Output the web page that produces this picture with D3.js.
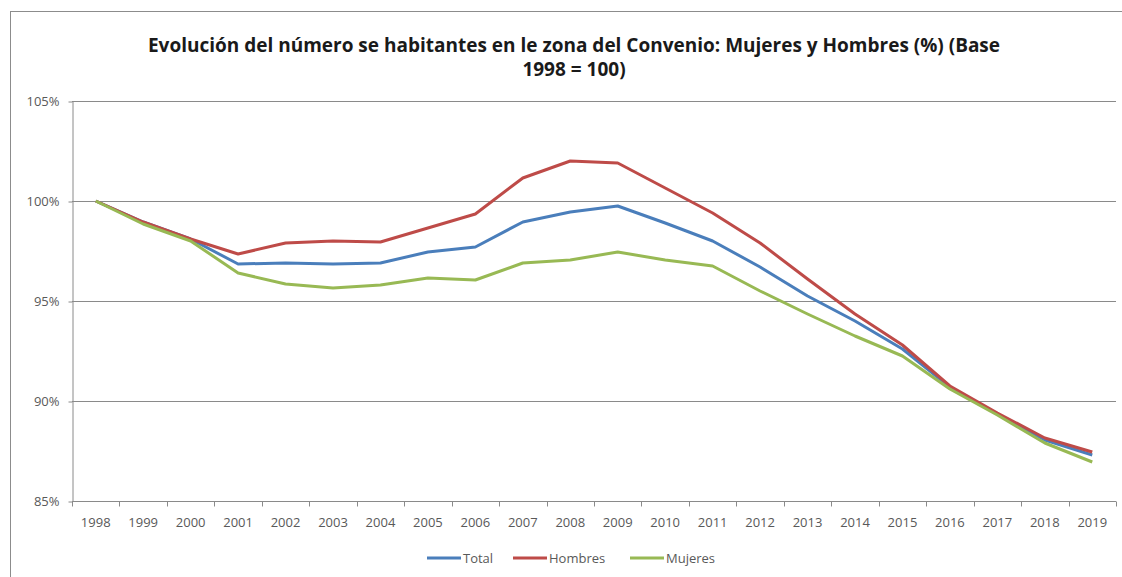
<!DOCTYPE html>
<html>
<head>
<meta charset="utf-8">
<script src="https://cdn.jsdelivr.net/npm/d3@7"></script>
<style>
  body { margin: 0; background: #fff; }
  svg { display: block; }
  text { font-family: "Open Sans", "DejaVu Sans", sans-serif; }
</style>
</head>
<body>
<svg width="1122" height="577"></svg>
<script>
// years on the category axis
var years = ["1998","1999","2000","2001","2002","2003","2004","2005","2006","2007","2008",
             "2009","2010","2011","2012","2013","2014","2015","2016","2017","2018","2019"];

// index values (base 1998 = 100)
var total   = [100, 98.95, 98.1, 96.85, 96.9, 96.85, 96.9, 97.45, 97.7, 98.95, 99.45,
               99.75, 98.9, 98.0, 96.7, 95.25, 94.0, 92.6, 90.7, 89.35, 88.05, 87.3];
var hombres = [100, 98.95, 98.1, 97.35, 97.9, 98.0, 97.95, 98.65, 99.35, 101.15, 102.0,
               101.9, 100.65, 99.4, 97.9, 96.1, 94.35, 92.8, 90.75, 89.4, 88.15, 87.45];
var mujeres = [100, 98.85, 98.0, 96.4, 95.85, 95.65, 95.8, 96.15, 96.05, 96.9, 97.05,
               97.45, 97.05, 96.75, 95.5, 94.35, 93.25, 92.25, 90.6, 89.3, 87.9, 86.95];

var yTicks = [85, 90, 95, 100, 105];

var seriesNames = ["Total", "Hombres", "Mujeres"];
var colors = {Total: "#4a7ebb", Hombres: "#be4b48", Mujeres: "#98b954"};

var series = [
  {name: "Total", values: total},
  {name: "Hombres", values: hombres},
  {name: "Mujeres", values: mujeres}
];

var svg = d3.select("svg");

// outer chart frame (right/bottom edges fall outside the picture)
svg.append("rect")
  .attr("x", 10.5).attr("y", 11.5)
  .attr("width", 1200).attr("height", 700)
  .attr("fill", "none").attr("stroke", "#8c8c8c");

var plotL = 72, plotR = 1116, plotT = 101, plotB = 501;

var x = d3.scaleBand().domain(years).range([plotL, plotR]);
var y = d3.scaleLinear().domain([85, 105]).range([plotB, plotT]);

// gridlines
svg.append("g").selectAll("line")
  .data(yTicks.filter(d => d > 85))
  .join("line")
  .attr("x1", plotL).attr("x2", plotR)
  .attr("y1", d => Math.round(y(d)) + 0.5)
  .attr("y2", d => Math.round(y(d)) + 0.5)
  .attr("stroke", "#8a8a8a").attr("stroke-width", 1.2);

// y axis
var yAxis = svg.append("g")
  .attr("transform", "translate(" + (plotL + 0.5) + ",0.5)")
  .call(d3.axisLeft(y).tickValues(yTicks).tickSizeInner(4).tickSizeOuter(0).tickPadding(9)
        .tickFormat(d => d + "%"));
yAxis.selectAll("path, line").attr("stroke", "#8a8a8a");
yAxis.selectAll("text").attr("fill", "#595959").style("font-size", "13px")
  .style("font-family", "'Open Sans', sans-serif");

// x axis, ticks between categories
var xAxis = svg.append("g")
  .attr("transform", "translate(0," + (plotB + 0.5) + ")");
xAxis.append("line")
  .attr("x1", plotL).attr("x2", plotR)
  .attr("stroke", "#8a8a8a").attr("stroke-width", 1.2);
xAxis.selectAll("line.tick")
  .data(years.concat(["end"]))
  .join("line")
  .attr("class", "tick")
  .attr("x1", (d, i) => Math.round(plotL + i * x.bandwidth()) + 0.5)
  .attr("x2", (d, i) => Math.round(plotL + i * x.bandwidth()) + 0.5)
  .attr("y1", 0).attr("y2", 5)
  .attr("stroke", "#8a8a8a");
xAxis.selectAll("text")
  .data(years)
  .join("text")
  .attr("x", d => x(d) + x.bandwidth() / 2)
  .attr("y", 25)
  .attr("text-anchor", "middle")
  .attr("fill", "#595959")
  .style("font-size", "13px")
  .text(d => d);

// lines
var line = d3.line()
  .x((d, i) => x(years[i]) + x.bandwidth() / 2)
  .y(d => y(d));

svg.append("g").selectAll("path")
  .data(series)
  .join("path")
  .attr("d", d => line(d.values))
  .attr("fill", "none")
  .attr("stroke", d => colors[d.name])
  .attr("stroke-width", 3)
  .attr("stroke-linejoin", "round");

// title
var title = svg.append("text")
  .attr("text-anchor", "middle")
  .attr("font-weight", "bold")
  .attr("fill", "#1a1a1a")
  .style("font-size", "19px");
title.append("tspan").attr("x", 574).attr("y", 52)
  .text("Evolución del número se habitantes en le zona del Convenio: Mujeres y Hombres (%) (Base");
title.append("tspan").attr("x", 574).attr("y", 76)
  .text("1998 = 100)");

// legend
var legX = [427, 513, 630];
var leg = svg.append("g").selectAll("g")
  .data(seriesNames)
  .join("g")
  .attr("transform", (d, i) => "translate(" + legX[i] + ",558)");
leg.append("line")
  .attr("x1", 0).attr("x2", 34)
  .attr("stroke", d => colors[d]).attr("stroke-width", 3);
leg.append("text")
  .attr("x", 36).attr("y", 5)
  .attr("fill", "#595959")
  .style("font-size", "13px")
  .text(d => d);
</script>
</body>
</html>
